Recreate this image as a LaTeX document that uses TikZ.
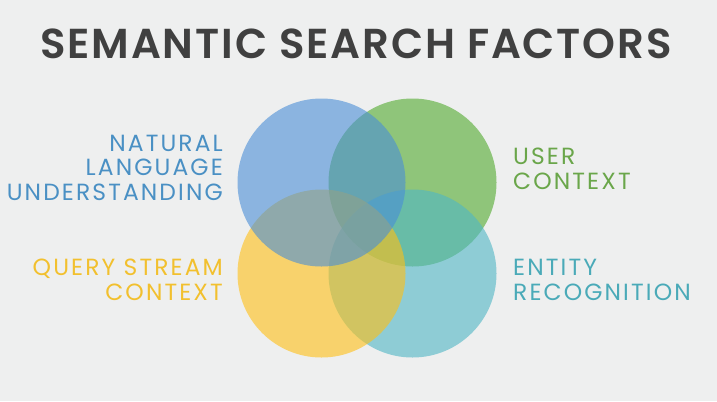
\documentclass[tikz,border=0pt]{standalone}
\usepackage{fontspec}
\usepackage{xcolor}
\usepackage{tikz}
\setmainfont{Poppins}
\newfontfamily\titlefont{Poppins SemiBold}[LetterSpace=4.5]
\newfontfamily\factorfont{Poppins}[LetterSpace=9]
\definecolor{bgcol}{RGB}{238,239,239}
\definecolor{colnlu}{RGB}{73,142,214}
\definecolor{coluser}{RGB}{80,169,44}
\definecolor{colquery}{RGB}{255,192,21}
\definecolor{colentity}{RGB}{78,182,197}
\definecolor{txtnlu}{RGB}{74,144,196}
\definecolor{txtuser}{RGB}{106,166,74}
\definecolor{txtquery}{RGB}{242,192,46}
\definecolor{txtentity}{RGB}{74,170,184}
\definecolor{txttitle}{RGB}{64,64,64}

\begin{document}
\begin{tikzpicture}[x=1bp,y=-1bp]
            \tikzset{factor/.style = {circle, minimum size=168bp, inner sep=0pt, fill opacity=0.6}}
            \tikzset{factortext/.style = {inner sep=0pt, font=\factorfont\fontsize{23.5}{24.5}\selectfont}}

            \fill[bgcol] (0,0) rectangle (717,401);
            \useasboundingbox (0,0) rectangle (717,401);

            % title
            \node[inner sep=0pt, anchor=base, text=txttitle, font=\titlefont\fontsize{42}{42}\selectfont] (title) at (356,58) {SEMANTIC SEARCH FACTORS};

            % circles
            \foreach \name/\x/\y in {user/412.5/182.5, entity/412.5/273.5, query/321.5/273.5, nlu/321.5/182.5}
            {
              \node[factor, fill=col\name] (\name) at (\x,\y) {};
            }

            % labels (base anchor = last line)
            \node[factortext, text=txtnlu, align=right, anchor=base east] (nlutxt) at (223,200) {NATURAL\\LANGUAGE\\UNDERSTANDING};
            \node[factortext, text=txtquery, align=right, anchor=base east] (querytxt) at (223,300) {QUERY STREAM\\CONTEXT};
            \node[factortext, text=txtuser, align=left, anchor=base west] (usertxt) at (513,189) {USER\\CONTEXT};
            \node[factortext, text=txtentity, align=left, anchor=base west] (entitytxt) at (513,300) {ENTITY\\RECOGNITION};

          \end{tikzpicture}
\end{document}
